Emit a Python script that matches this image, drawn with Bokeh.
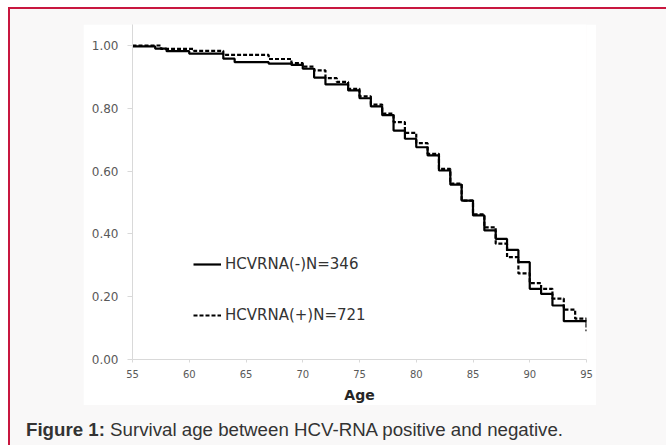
from bokeh.plotting import figure
from bokeh.layouts import column
from bokeh.models import (Range1d, FixedTicker, NumeralTickFormatter, Legend,
                          LegendItem, Div)
from bokeh.embed import file_html
from bokeh.resources import INLINE

# ---- data ----
neg_age = [55, 57, 58, 60, 63, 64, 67, 69, 70, 71, 72, 74, 75, 76, 77, 78, 79, 80,
           81, 82, 83, 84, 85, 86, 87, 88, 89, 90, 91, 92, 93, 95]
neg_surv = [0.997, 0.990, 0.982, 0.974, 0.958, 0.947, 0.942, 0.938, 0.926, 0.898,
            0.876, 0.857, 0.832, 0.806, 0.778, 0.729, 0.703, 0.676, 0.650, 0.602,
            0.557, 0.506, 0.459, 0.411, 0.384, 0.349, 0.310, 0.225, 0.209, 0.172,
            0.122, 0.115]
pos_age = [55, 57.5, 60.4, 63, 67, 69, 70, 71, 72, 73, 74, 75, 76, 77, 78, 79, 80,
           81, 82, 83, 84, 85, 86, 87, 88, 89, 90, 91, 92, 93, 94, 95]
pos_surv = [1.0, 0.989, 0.983, 0.970, 0.957, 0.944, 0.933, 0.921, 0.896, 0.884,
            0.862, 0.838, 0.812, 0.783, 0.756, 0.722, 0.689, 0.655, 0.607, 0.560,
            0.506, 0.462, 0.421, 0.369, 0.326, 0.274, 0.243, 0.225, 0.194, 0.159,
            0.130, 0.09]
x_ticks = [55, 60, 65, 70, 75, 80, 85, 90, 95]
y_ticks = [0.0, 0.2, 0.4, 0.6, 0.8, 1.0]
neg_label = "HCVRNA(-)N=346"
pos_label = "HCVRNA(+)N=721"
x_title = "Age"
caption_bold = "Figure 1:"
caption_text = "Survival age between HCV-RNA positive and negative."

# white chart panel: 513 x 381, frame 454 x 335
p = figure(width=513, height=381, sizing_mode="fixed", output_backend="svg",
           toolbar_location=None,
           x_range=Range1d(55, 95), y_range=Range1d(0, 1.0669),
           min_border_left=49, min_border_right=10, min_border_top=0,
           min_border_bottom=46, margin=(15, 0, 0, 73))
p.border_fill_color = "white"
p.background_fill_color = "white"
p.outline_line_color = None
p.grid.visible = False

r_neg = p.step(neg_age, neg_surv, mode="after", line_color="black", line_width=2.2)
r_pos = p.step(pos_age, pos_surv, mode="after", line_color="black", line_width=2.2,
               line_dash="4 2")

for ax in (p.xaxis[0], p.yaxis[0]):
    ax.axis_line_color = "#d9d9d9"
    ax.major_tick_line_color = "#d9d9d9"
    ax.minor_tick_line_color = None
    ax.major_label_text_color = "#595959"
    ax.major_label_text_font = "DejaVu Sans"

p.xaxis.ticker = FixedTicker(ticks=x_ticks)
p.xaxis.major_tick_in = 0
p.xaxis.major_tick_out = 3
p.xaxis.major_label_standoff = 7
p.xaxis.major_label_text_font_size = "10px"
p.xaxis.axis_label = x_title
p.xaxis.axis_label_text_font = "DejaVu Sans"
p.xaxis.axis_label_text_font_style = "bold"
p.xaxis.axis_label_text_font_size = "14px"
p.xaxis.axis_label_text_color = "#262626"
p.xaxis.axis_label_standoff = 6

p.yaxis.ticker = FixedTicker(ticks=y_ticks)
p.yaxis.formatter = NumeralTickFormatter(format="0.00")
p.yaxis.major_tick_in = 0
p.yaxis.major_tick_out = 5
p.yaxis.major_label_standoff = 9
p.yaxis.major_label_text_font_size = "12px"

legend = Legend(items=[LegendItem(label=neg_label, renderers=[r_neg]),
                       LegendItem(label=pos_label, renderers=[r_pos])],
                location=(61, 34), padding=0, margin=0, spacing=31,
                glyph_width=28, glyph_height=20, label_height=20,
                label_standoff=4, border_line_alpha=0,
                background_fill_alpha=0,
                label_text_font="DejaVu Sans", label_text_font_size="15px",
                label_text_color="#333333")
p.add_layout(legend)

caption = Div(text="<b>" + caption_bold + "</b> " + caption_text,
              width=620, height=28, sizing_mode="fixed", margin=(14, 0, 0, 16),
              styles={"font-family": "Liberation Sans", "font-size": "18.7px",
                      "color": "#333333", "line-height": "21px",
                      "white-space": "nowrap"})

page = column(p, caption, width=660, height=438, margin=(7, 0, 0, 8),
              styles={"background-color": "#f9f8f8",
                      "border-left": "2px solid #c8173f",
                      "border-top": "2px solid #c8173f"})

html = file_html(page, INLINE)
html = html.replace("<head>",
                    "<head><style>html,body{margin:0;padding:0;overflow:hidden;}</style>",
                    1)
open("out.html", "w").write(html)
